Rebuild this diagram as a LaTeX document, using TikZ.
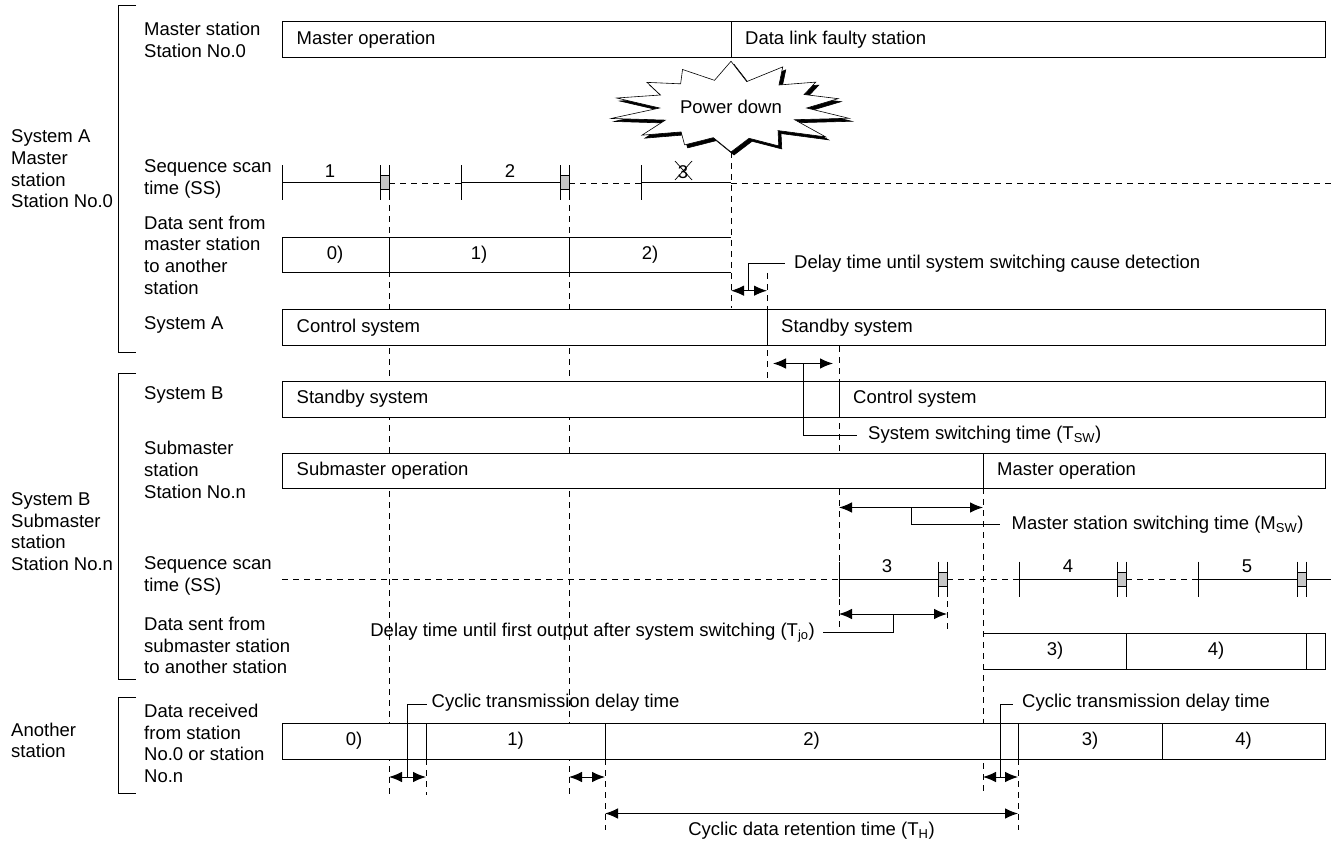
\documentclass[tikz,border=0pt]{standalone}
\usepackage{fontspec}
\setmainfont{Liberation Sans}
\usetikzlibrary{arrows.meta}

\begin{document}
\begin{tikzpicture}[x=1pt,y=-1pt,>={Latex[length=13pt,width=10.5pt]},
		every node/.style={font=\fontsize{18.5}{21.7}\selectfont, inner sep=0pt},
		barra/.style={draw, line width=1pt, fill=white},
		linea/.style={line width=1pt},
		tratto/.style={line width=0.9pt, dash pattern=on 6pt off 5pt},
		quota/.style={<->, line width=1pt},
		testo/.style={anchor=west, align=left},
		]
		\useasboundingbox (0,0) rectangle (1331,845);
		% ── Parametri ──
		\def\xa{282}\def\xb{1325}                      % estremi delle barre
		\def\yA{183}\def\yB{579}                       % quote delle due scansioni
		\def\hb{17.5}\def\hg{7}\def\wg{8.5}            % tacche e blocco grigio
		% ── Tacca verticale della scansione ──
		\def\tacca#1#2{\draw[linea] (#1,#2-\hb) -- (#1,#2+\hb);}
		% ── Blocco grigio di fine scansione (bordo destro in #1) ──
		\def\fine#1#2{%
			\draw[linea, fill=black!22] (#1-\wg,#2-\hg) rectangle (#1,#2+\hg);
			\tacca{#1-\wg}{#2}\tacca{#1}{#2}}
		% ── Barra di stato chiusa con separatori ──
		\def\barra#1#2#3{%
			\draw[barra] (\xa,#1) rectangle (\xb,#2);
			\foreach \d in {#3}\draw[linea] (\d,#1) -- (\d,#2);}
		
		% ===================== linee tratteggiate di riferimento =====================
		\draw[tratto] (389,\yA) -- (389,795);
		\draw[tratto] (569,\yA) -- (569,795);
		\draw[tratto] (731,152) -- (731,308);
		\draw[tratto] (767,273) -- (767,381);
		\draw[tratto] (839,346) -- (839,633);
		\draw[tratto] (947,\yB) -- (947,633);
		\draw[tratto] (983,488) -- (983,795);
		\foreach \x/\y in {426/795,605/830,1018/830}\draw[tratto] (\x,759) -- (\x,\y);
		
		% ===================== barre di stato =====================
		\barra{21.7}{57.3}{731}
		\barra{309.3}{345.7}{767}
		\barra{381}{417}{839}
		\barra{453}{488.5}{983}
		\barra{723}{759}{426,605,1018,1162}
		% barre aperte (dati inviati)
		\draw[linea] (731,237.3) -- (\xa,237.3) -- (\xa,272.7) -- (731,272.7);
		\foreach \d in {389,569}\draw[linea] (\d,237.3) -- (\d,272.7);
		\draw[linea] (983,633) -- (\xb,633) -- (\xb,669) -- (983,669);
		\foreach \d in {1126.5,1306}\draw[linea] (\d,633) -- (\d,669);
		
		% ===================== scansioni (SS) =====================
		\draw[linea] (\xa,\yA) -- (381,\yA);
		\draw[tratto] (389,\yA) -- (461,\yA);
		\draw[linea] (461,\yA) -- (561,\yA);
		\draw[tratto] (569,\yA) -- (641,\yA);
		\draw[linea] (641,\yA) -- (731,\yA);
		\draw[tratto] (731,\yA) -- (1331,\yA);
		\tacca{\xa}{\yA}\fine{389}{\yA}\tacca{461}{\yA}\fine{569}{\yA}\tacca{641}{\yA}
		\draw[tratto] (\xa,\yB) -- (839,\yB);
		\draw[linea] (839,\yB) -- (939,\yB);
		\draw[tratto] (947,\yB) -- (1019,\yB);
		\draw[linea] (1019,\yB) -- (1118,\yB);
		\draw[tratto] (1126,\yB) -- (1198,\yB);
		\draw[linea] (1198,\yB) -- (1298,\yB);
		\draw[linea] (1306,\yB) -- (1331,\yB);
		\tacca{839}{\yB}\fine{947}{\yB}\tacca{1019}{\yB}\fine{1126}{\yB}\tacca{1198}{\yB}\fine{1306}{\yB}
		\node (s1) at (330,171.5) {1};
		\node (s2) at (510,171.5) {2};
		\node (s3a) at (683,172) {3};
		\draw[line width=0.7pt] (675,161) -- (692,180) (692,161) -- (675,180);
		\node (s3) at (887,566) {3};
		\node (s4) at (1068,566) {4};
		\node (s5) at (1247,566) {5};
		
		% ===================== stella (ombra nera + contorno) =====================
		\foreach \spost/\tinta in {3/black,0/white}
		\filldraw[fill=\tinta, line width=0.6pt, shift={(\spost,\spost)}] (731,152)
		\foreach \nn in {1,...,27}
		{ -- ({731+115*(1-0.34*mod(\nn,2))*(1+0.07*sin(\nn*137))*cos(90+\nn*360/28)},
		      {108+44*(1-0.34*mod(\nn,2))*(1+0.07*sin(\nn*137))*sin(90+\nn*360/28)}) } -- cycle;
		\node (pd) at (731,107) {Power down};
		
		% ===================== quote e richiami =====================
		\draw[quota] (731,290.7) -- (767,290.7);
		\draw[linea] (748,290.7) |- (785,264);
		\draw[quota] (773,363.5) -- (833,363.5);
		\draw[linea] (803,363.5) |- (857,435);
		\draw[quota] (839,507.5) -- (983,507.5);
		\draw[linea] (911,507.5) |- (999.5,524.5);
		\draw[quota] (839,614) -- (947,614);
		\draw[linea] (893,614) |- (823,632.7);
		\foreach \x/\y in {389/426,569/605,983/1018}\draw[quota] (\x,777) -- (\y,777);
		\draw[linea] (407.5,777) |- (426.5,704);
		\draw[linea] (1000.5,777) |- (1013,704);
		\draw[quota] (605,813.5) -- (1018,813.5);
		
		% ===================== testi nelle barre =====================
		\node[testo] (mop) at (296.5,39.5) {Master operation};
		\node[testo] (dlf) at (745,39.5) {Data link faulty station};
		\node (da0) at (335,255) {0)};
		\node (da1) at (479,255) {1)};
		\node (da2) at (650,255) {2)};
		\node[testo] (csA) at (296.5,327.5) {Control system};
		\node[testo] (ssA) at (781,327.5) {Standby system};
		\node[testo] (ssB) at (296.5,399) {Standby system};
		\node[testo] (csB) at (853,399) {Control system};
		\node[testo] (sop) at (296.5,471) {Submaster operation};
		\node[testo] (mop2) at (997,471) {Master operation};
		\node (db3) at (1055,651) {3)};
		\node (db4) at (1216,651) {4)};
		\node (dr0) at (354,741) {0)};
		\node (dr1) at (515.5,741) {1)};
		\node (dr2) at (811.5,741) {2)};
		\node (dr3) at (1090,741) {3)};
		\node (dr4) at (1243.5,741) {4)};
		
		% ===================== testi dei richiami =====================
		\node[testo] (tdet) at (794,264) {Delay time until system switching cause detection};
		\node[testo] (tsw) at (868,435) {System switching time (T\textsubscript{SW})};
		\node[testo] (msw) at (1011.5,525) {Master station switching time (M\textsubscript{SW})};
		\node[anchor=east] (tjo) at (815,632.7) {Delay time until first output after system switching (T\textsubscript{jo})};
		\node[testo] (ctd1) at (431.5,703) {Cyclic transmission delay time};
		\node[testo] (ctd2) at (1022,703) {Cyclic transmission delay time};
		\node (th) at (811.5,831) {Cyclic data retention time (T\textsubscript{H})};
		
		% ===================== etichette a sinistra =====================
		\draw[linea] (136,5.3) -- (118,5.3) -- (118,352) -- (136,352);
		\draw[linea] (136,373) -- (118,373) -- (118,679) -- (136,679);
		\draw[linea] (136,697) -- (118,697) -- (118,793) -- (136,793);
		\node[testo] (gA) at (11,169) {System A\\Master\\station\\Station No.0};
		\node[testo] (gB) at (11,531.5) {System B\\Submaster\\station\\Station No.n};
		\node[testo] (gC) at (11,740.5) {Another\\station};
		\node[testo] (lm) at (144,40) {Master station\\Station No.0};
		\node[testo] (lssA) at (144,179) {Sequence scan\\time (SS)};
		\node[testo] (ldA) at (144,255) {Data sent from\\master station\\to another\\station};
		\node[testo] (lsA) at (144,325) {System A};
		\node[testo] (lsB) at (144,395) {System B};
		\node[testo] (lsm) at (144,470) {Submaster\\station\\Station No.n};
		\node[testo] (lssB) at (144,576) {Sequence scan\\time (SS)};
		\node[testo] (ldB) at (144,645.5) {Data sent from\\submaster station\\to another station};
		\node[testo] (ldr) at (144,743.5) {Data received\\from station\\No.0 or station\\No.n};
	\end{tikzpicture}
\end{document}
